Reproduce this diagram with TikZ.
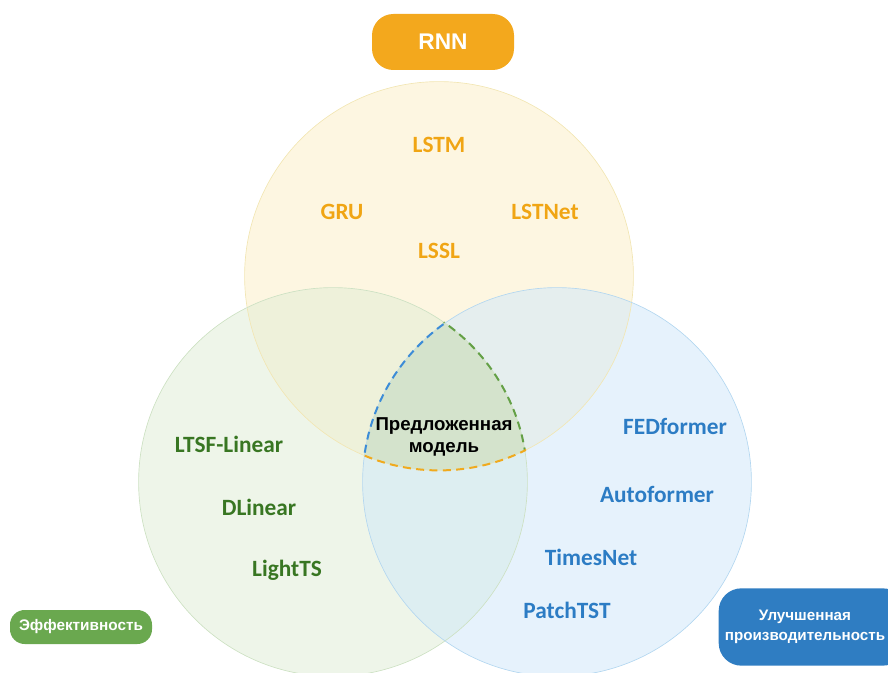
\documentclass[tikz,border=0pt]{standalone}
\usepackage{fontspec}
\setmainfont{Carlito}
\newfontfamily\pillfont{Liberation Sans}
\definecolor{rnnorange}{RGB}{243,168,29}
\definecolor{txtorange}{RGB}{240,165,20}
\definecolor{effgreen}{RGB}{106,168,79}
\definecolor{txtgreen}{RGB}{56,118,34}
\definecolor{perfblue}{RGB}{47,125,194}
\definecolor{txtblue}{RGB}{44,124,196}
\definecolor{fillyellow}{RGB}{252,238,196}
\definecolor{fillgreen}{RGB}{222,236,212}
\definecolor{fillblue}{RGB}{205,230,250}
\definecolor{lineyellow}{RGB}{242,230,180}
\definecolor{linegreen}{RGB}{205,225,195}
\definecolor{lineblue}{RGB}{180,215,240}
\definecolor{corefill}{RGB}{212,227,204}
\definecolor{dashblue}{RGB}{60,140,215}
\definecolor{dashgreen}{RGB}{100,160,70}
\definecolor{dashorange}{RGB}{240,170,30}
\begin{document}
\begin{tikzpicture}[x=0.75pt,y=-0.75pt,
  pill/.style={rounded corners=#1, inner sep=0pt, align=center, text=white,
    font=\pillfont\bfseries},
  lbl/.style={font=\fontsize{17.5}{20}\selectfont\bfseries},
  orangelbl/.style={lbl, text=txtorange},
  greenlbl/.style={lbl, text=txtgreen},
  bluelbl/.style={lbl, text=txtblue},
  coredash/.style={line width=1.5pt, dash pattern=on 6pt off 4pt}]
\useasboundingbox (0,0) rectangle (888,673);

% circle centres and radius
\coordinate (ct) at (439,276);
\coordinate (cl) at (333,482);
\coordinate (cr) at (557,482);
\def\R{145.8pt}

% the three sets
\fill[fillyellow, fill opacity=0.5] (ct) circle[radius=\R];
\fill[fillgreen, fill opacity=0.5] (cl) circle[radius=\R];
\fill[fillblue, fill opacity=0.5] (cr) circle[radius=\R];
\draw[lineyellow, line width=0.5pt] (ct) circle[radius=\R];
\draw[linegreen, line width=0.5pt] (cl) circle[radius=\R];
\draw[lineblue, line width=0.5pt] (cr) circle[radius=\R];

% common region of all three
\begin{scope}
  \clip (ct) circle[radius=\R];
  \clip (cl) circle[radius=\R];
  \fill[corefill] (cr) circle[radius=\R];
\end{scope}
% dashed outline of the common region
\begin{scope}
  \clip (ct) circle[radius=\R];
  \clip (cl) circle[radius=\R+1pt];
  \draw[dashblue, coredash] (cr) circle[radius=\R];
\end{scope}
\begin{scope}
  \clip (ct) circle[radius=\R];
  \clip (cr) circle[radius=\R+1pt];
  \draw[dashgreen, coredash] (cl) circle[radius=\R];
\end{scope}
\begin{scope}
  \clip (cl) circle[radius=\R+1pt];
  \clip (cr) circle[radius=\R+1pt];
  \draw[dashorange, coredash] (ct) circle[radius=\R];
\end{scope}

% category badges
\node[pill=16pt, fill=rnnorange, minimum width=106.5pt, minimum height=42pt,
  font=\pillfont\bfseries\fontsize{17}{20}\selectfont] (rnn) at (443,42) {RNN};
\node[pill=11pt, fill=effgreen, minimum width=106.5pt, minimum height=25.5pt,
  font=\pillfont\bfseries\fontsize{11.5}{13}\selectfont] (eff) at (81,627) {Эффективность};
\node[pill=17pt, fill=perfblue, minimum width=140pt, minimum height=58pt]
  (perf) at (812,627) {};
\node[inner sep=0pt, align=center, text=white,
  font=\pillfont\bfseries\fontsize{11.4}{15.5}\selectfont] (perftext) at (805,627)
  {Улучшенная\\производительность};

% RNN family
\node[orangelbl] (lstm) at (439,145) {LSTM};
\node[orangelbl] (gru) at (342,212) {GRU};
\node[orangelbl] (lstnet) at (545,212) {LSTNet};
\node[orangelbl] (lssl) at (439,251) {LSSL};

% linear models
\node[greenlbl] (ltsf) at (229,444) {LTSF-Linear};
\node[greenlbl] (dlin) at (259,507) {DLinear};
\node[greenlbl] (light) at (287,570) {LightTS};

% transformer models
\node[bluelbl] (fed) at (675,426) {FEDformer};
\node[bluelbl] (auto) at (657,494) {Autoformer};
\node[bluelbl] (times) at (591,557) {TimesNet};
\node[bluelbl] (patch) at (567,610) {PatchTST};

% proposed model
\node[align=center, font=\pillfont\bfseries\fontsize{14}{17}\selectfont]
  (prop) at (444,437) {Предложенная\\модель};
\end{tikzpicture}
\end{document}
